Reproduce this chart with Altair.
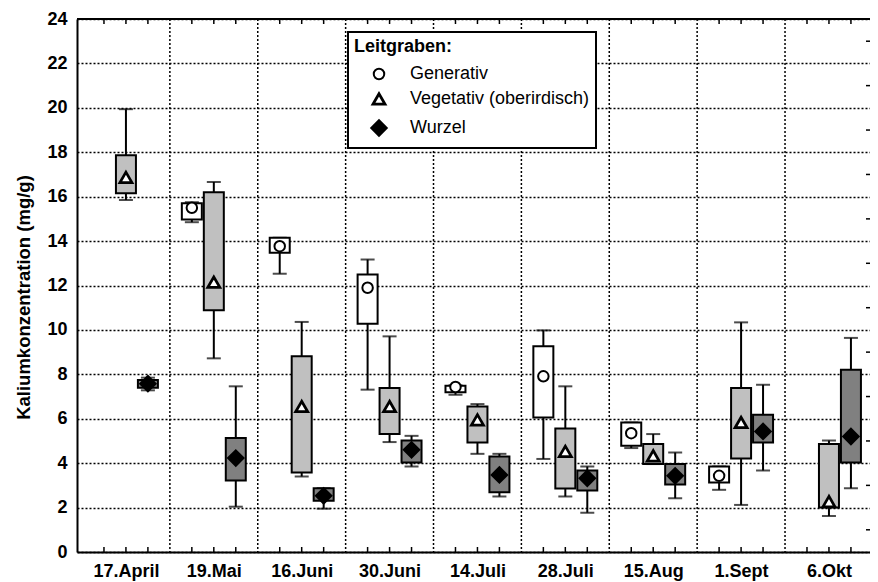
import json
import altair as alt
import pandas as pd

dates = ["17.April", "19.Mai", "16.Juni", "30.Juni", "14.Juli", "28.Juli", "15.Aug", "1.Sept", "6.Okt"]
series = ["Generativ", "Vegetativ (oberirdisch)", "Wurzel"]

gen_min = [None, 14.85, 12.53, 7.31, 7.08, 4.19, 4.68, 2.80, None]
gen_q1 = [None, 14.97, 13.47, 10.28, 7.19, 6.06, 4.78, 3.13, None]
gen_med = [None, 15.50, 13.77, 11.90, 7.43, 7.91, 5.35, 3.43, None]
gen_q3 = [None, 15.70, 14.15, 12.49, 7.49, 9.26, 5.83, 3.85, None]
gen_max = [None, 15.75, 14.15, 13.17, 7.50, 9.98, 5.83, 3.85, None]

veg_min = [15.85, 8.72, 3.40, 4.95, 4.42, 2.50, 3.96, 2.12, 1.62]
veg_q1 = [16.15, 10.88, 3.58, 5.31, 4.93, 2.86, 3.96, 4.21, 2.00]
veg_med = [16.87, 12.15, 6.55, 6.55, 5.95, 4.53, 4.33, 5.83, 2.27]
veg_q3 = [17.86, 16.20, 8.81, 7.38, 6.55, 5.56, 4.86, 7.38, 4.86]
veg_max = [19.94, 16.66, 10.36, 9.71, 6.66, 7.46, 5.31, 10.34, 5.02]

wur_min = [7.28, 2.04, 1.95, 3.85, 2.50, 1.77, 2.42, 3.67, 2.87]
wur_q1 = [7.40, 3.22, 2.31, 4.03, 2.69, 2.77, 3.04, 4.93, 4.03]
wur_med = [7.58, 4.23, 2.53, 4.60, 3.47, 3.32, 3.43, 5.43, 5.20]
wur_q3 = [7.75, 5.13, 2.87, 5.02, 4.30, 3.67, 3.96, 6.18, 8.21]
wur_max = [7.85, 7.46, 2.87, 5.23, 4.42, 3.85, 4.48, 7.53, 9.64]

y_ticks = list(range(0, 25, 2))

# style
offsets = [0.25, 0.5, 0.75]
box_fill = ["white", "#c0c0c0", "#808080"]
FONT = "Liberation Sans"
W, H = 793, 533
GROUP_PX = 89.0

stats = [
    (gen_min, gen_q1, gen_med, gen_q3, gen_max),
    (veg_min, veg_q1, veg_med, veg_q3, veg_max),
    (wur_min, wur_q1, wur_med, wur_q3, wur_max),
]
rows = []
for si, name in enumerate(series):
    mn, q1, md, q3, mx = stats[si]
    for di, d in enumerate(dates):
        if md[di] is None:
            continue
        rows.append(dict(date=d, series=name, pos=di + offsets[si],
                         lo=mn[di], q1=q1[di], med=md[di], q3=q3[di], hi=mx[di]))
df = pd.DataFrame(rows)

xscale = alt.Scale(domain=[0, W / GROUP_PX], nice=False, zero=False)
yscale = alt.Scale(domain=[0, 24], nice=False, zero=True)

label_expr = json.dumps(dates) + "[floor(datum.value)]"
x_axis = alt.Axis(values=[i + 0.5 for i in range(len(dates))], labelExpr=label_expr,
                  grid=False, ticks=False, labelPadding=10, labelFontSize=18,
                  labelFontWeight="bold", labelFont=FONT, labelColor="black",
                  domainColor="black", domainWidth=2, title=None, labelAngle=0,
                  labelFlush=False, labelOverlap=False)
y_axis = alt.Axis(values=y_ticks, grid=True, gridDash=[2, 2], gridColor="black",
                  gridWidth=1.5, gridOpacity=1, ticks=False, labelPadding=10,
                  labelFontSize=18, labelFontWeight="bold", labelFont=FONT,
                  labelColor="black", domainColor="black", domainWidth=2,
                  title="Kaliumkonzentration (mg/g)", titleFontSize=18.5,
                  titleFontWeight="bold", titleFont=FONT, titleColor="black",
                  titleAngle=270, titleX=-48, titleY=278, titleAlign="center",
                  titleBaseline="alphabetic", labelFlush=False, labelOverlap=False)


def X(field):
    return alt.X(field, scale=xscale, axis=x_axis)


def Y(field):
    return alt.Y(field, scale=yscale, axis=y_axis)


bounds = pd.DataFrame({"b": list(range(1, len(dates)))})
minor = pd.DataFrame({"p": [i + o for i in range(len(dates)) for o in offsets]})
right_minor = pd.DataFrame({"v": list(range(1, 24, 2))})

vgrid = alt.Chart(bounds).mark_rule(strokeDash=[2, 2], color="black", strokeWidth=1.5).encode(
    x=X("b:Q"), y=alt.value(0), y2=alt.value(H),
)

whisk = alt.Chart(df).mark_rule(color="black", strokeWidth=2).encode(
    x=X("pos:Q"), y=Y("lo:Q"), y2="hi:Q",
)
cap_lo = alt.Chart(df).mark_tick(orient="horizontal", size=14, thickness=2, color="black").encode(
    x=X("pos:Q"), y=Y("lo:Q"),
)
cap_hi = alt.Chart(df).mark_tick(orient="horizontal", size=14, thickness=2, color="black").encode(
    x=X("pos:Q"), y=Y("hi:Q"),
)

boxes = []
for si, name in enumerate(series):
    boxes.append(
        alt.Chart(df).transform_filter(alt.datum.series == name)
        .mark_bar(size=20, stroke="black", strokeWidth=2, fill=box_fill[si], orient="vertical")
        .encode(x=X("pos:Q"), y=Y("q1:Q"), y2="q3:Q")
    )

leg = alt.Legend(orient="none", legendX=271, legendY=13, title="Leitgraben:",
                 titleFontSize=18, titleFontWeight="bold", titleFont=FONT, titleColor="black",
                 labelFontSize=18, labelFont=FONT, labelColor="black",
                 fillColor="white", strokeColor="black", padding=6, rowPadding=4,
                 titlePadding=9, symbolOffset=16, labelOffset=22, labelLimit=400)

points = alt.Chart(df).mark_point(filled=True, stroke="black", opacity=1).encode(
    x=X("pos:Q"),
    y=Y("med:Q"),
    shape=alt.Shape("series:N", scale=alt.Scale(domain=series, range=["circle", "triangle-up", "diamond"]), legend=leg),
    fill=alt.Fill("series:N", scale=alt.Scale(domain=series, range=["white", "white", "black"]), legend=leg),
    size=alt.Size("series:N", scale=alt.Scale(domain=series, range=[110, 180, 210]), legend=leg),
    strokeWidth=alt.StrokeWidth("series:N", scale=alt.Scale(domain=series, range=[2, 3.5, 1]), legend=leg),
)

top_line = alt.Chart(bounds).mark_rule(color="black", strokeWidth=2).encode(
    x=alt.value(0), x2=alt.value(W), y=alt.value(0)
)
top_ticks = alt.Chart(minor).mark_rule(color="black", strokeWidth=1.5).encode(
    x=X("p:Q"), y=alt.value(0), y2=alt.value(5)
)
bot_ticks = alt.Chart(minor).mark_rule(color="black", strokeWidth=1.5).encode(
    x=X("p:Q"), y=alt.value(H), y2=alt.value(H - 5)
)
right_ticks = alt.Chart(right_minor).mark_rule(color="black", strokeWidth=1.5).encode(
    y=Y("v:Q"), x=alt.value(W - 4), x2=alt.value(W)
)

chart = alt.layer(
    vgrid, whisk, cap_lo, cap_hi, *boxes, points, top_line, top_ticks, bot_ticks, right_ticks
).properties(
    width=W, height=H,
    autosize=alt.AutoSizeParams(type="none"),
    padding={"left": 69, "top": 11, "right": 0, "bottom": 30},
).configure_view(stroke=None).configure_legend(strokeWidth=2)

chart.save("out.html", embed_options={"renderer": "svg", "actions": False})
